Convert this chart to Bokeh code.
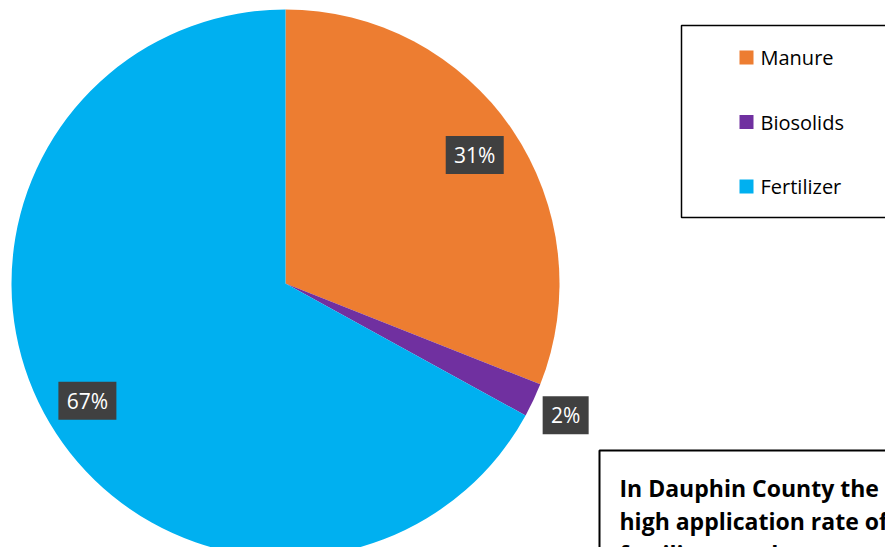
import math
from bokeh.plotting import figure
from bokeh.models import Range1d
from bokeh.core.properties import value
from bokeh.embed import file_html
from bokeh.resources import INLINE

# ---- data ----
categories = ["Manure", "Biosolids", "Fertilizer"]
shares = [31, 2, 67]
colors = ["#ED7D31", "#7030A0", "#00B0F0"]
pct_labels = ["31%", "2%", "67%"]
label_radius = [0.835, 1.13, 0.84]
note_lines = ["In Dauphin County the", "high application rate of", "fertilitzer and manure."]

W, H = 885, 547
p = figure(width=W, height=H, output_backend="svg", toolbar_location=None,
           x_range=Range1d(0, W), y_range=Range1d(0, H),
           x_axis_location=None, y_axis_location=None, min_border=0)
p.grid.visible = False
p.outline_line_color = None
p.background_fill_color = "white"
p.border_fill_color = "white"

def Y(screen_y):
    return H - screen_y

cx, cy, r = 285, Y(283), 274
total = float(sum(shares))
starts, ends, mids = [], [], []
acc = 0.0
for s in shares:
    a0 = math.pi / 2 - 2 * math.pi * acc / total
    acc += s
    a1 = math.pi / 2 - 2 * math.pi * acc / total
    starts.append(a0); ends.append(a1); mids.append((a0 + a1) / 2)

p.wedge(x=[cx] * 3, y=[cy] * 3, radius=r, start_angle=starts, end_angle=ends,
        direction="clock", fill_color=colors, line_color=None)

# data labels
lx = [cx + k * r * math.cos(m) for k, m in zip(label_radius, mids)]
ly = [cy + k * r * math.sin(m) for k, m in zip(label_radius, mids)]
lw = [22 + 12 * len(t) for t in pct_labels]
p.rect(x=lx, y=ly, width=lw, height=38, fill_color="#404040", line_color=None)
p.text(x=lx, y=ly, text=pct_labels, text_color="white", text_font=value("Open Sans"),
       text_font_size="21px", text_align="center", text_baseline="middle")

# legend box
p.quad(left=[681], right=[910], top=[Y(25)], bottom=[Y(217)], fill_color="white",
       line_color="black", line_width=1.5)
leg_y = [Y(57 + 64.5 * i) for i in range(len(categories))]
p.rect(x=[746] * 3, y=leg_y, width=14, height=14, fill_color=colors, line_color=None)
p.text(x=[760] * 3, y=leg_y, text=categories, text_color="black",
       text_font=value("Open Sans"), text_font_size="20px",
       text_align="left", text_baseline="middle")

# note box
p.quad(left=[599], right=[910], top=[Y(450)], bottom=[Y(600)], fill_color="white",
       line_color="black", line_width=2)
note_y = [Y(487 + 33 * i) for i in range(len(note_lines))]
p.text(x=[619] * 3, y=note_y, text=note_lines, text_color="black",
       text_font=value("Open Sans"), text_font_style="bold", text_font_size="23px",
       text_align="left", text_baseline="alphabetic")

open("out.html", "w").write(file_html(p, INLINE))
